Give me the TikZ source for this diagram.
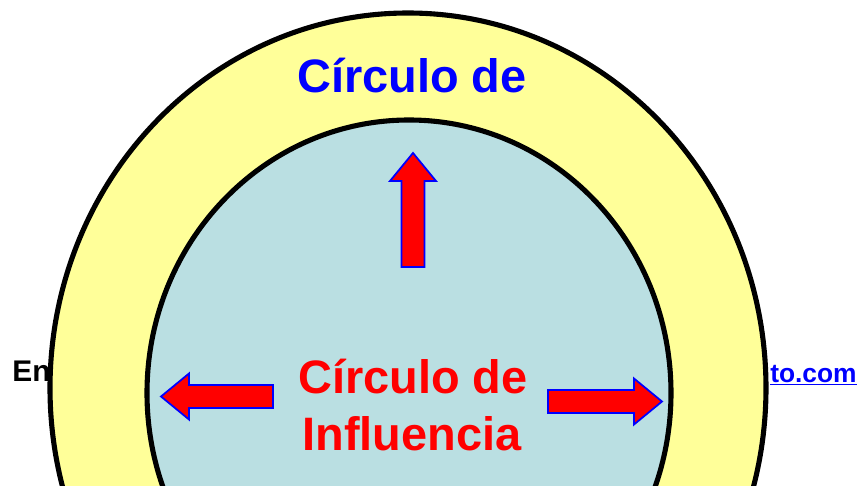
\documentclass[tikz,border=0pt]{standalone}
\usepackage{fontspec}
\setmainfont{Liberation Sans}
\usetikzlibrary{positioning}
\definecolor{myyellow}{RGB}{255,255,153}
\definecolor{mylightblue}{RGB}{186,223,226}
\definecolor{myred}{RGB}{255,0,0}
\definecolor{myblue}{RGB}{0,0,255}
\newcommand\flecha[3]{% tail, direction, length
    \begin{scope}[shift={#1},rotate=#2]
        \draw[flechab] (0,-11.5) -- ({#3-28},-11.5) -- ({#3-28},-23) -- (#3,0)
            -- ({#3-28},23) -- ({#3-28},11.5) -- (0,11.5) -- cycle;
    \end{scope}
}

\begin{document}
\begin{tikzpicture}[x=0.02cm,y=-0.02cm,
            anillo/.style={draw=black,line width=2.9pt},
            flechab/.style={draw=myblue,fill=myred,line width=1pt,line join=miter},
            titulo/.style={font={\fontsize{26.7}{32}\selectfont\bfseries},inner sep=0pt},
            pie/.style={font={\fontsize{15}{18}\selectfont\bfseries},inner sep=0pt},
        ]
        \useasboundingbox (0,0) rectangle (859,486);
        \clip (0,0) rectangle (859,486);
        \fill[white] (0,0) rectangle (859,486);

        \node[pie,font={\fontsize{17}{20}\selectfont\bfseries},anchor=base west] (autor) at (12,381) {En};
        \node[pie,text=myblue,anchor=base east] (web) at (857,382) {\underline{to.com}};

        % circulo de preocupacion
        \draw[anillo,fill=myyellow] (408,388) ellipse [x radius=358,y radius=375];
        % circulo de influencia
        \draw[anillo,fill=mylightblue] (409,393) ellipse [x radius=262,y radius=273];

        \flecha{(413,267)}{90}{114}
        \flecha{(273,396.5)}{180}{112}
        \flecha{(548,401.5)}{0}{114}

        \node[titulo,text=myblue,anchor=base] (exterior) at (412,93) {Círculo de};
        \node[titulo,text=myred,anchor=base] (interior) at (413,393) {Círculo de};
        \node[titulo,text=myred,anchor=base] (interior2) at (412,450) {Influencia};
    \end{tikzpicture}
\end{document}
